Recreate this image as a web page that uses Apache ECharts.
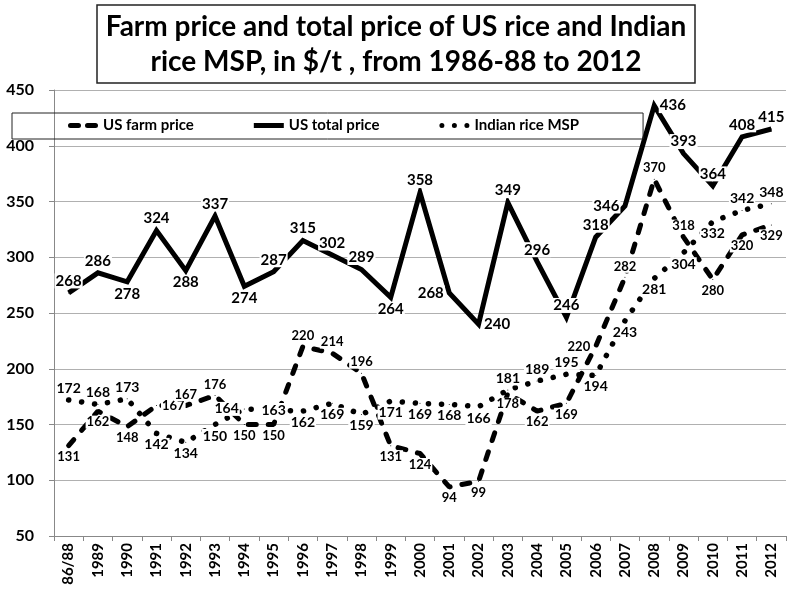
<!DOCTYPE html>
<html>
<head>
<meta charset="utf-8">
<script src="https://cdn.jsdelivr.net/npm/echarts@6/dist/echarts.min.js"></script>
<style>
  html, body { margin: 0; padding: 0; background: #fff; }
  #main { width: 792px; height: 592px; }
</style>
</head>
<body>
<div id="main"></div>
<script>
var categories = ['86/88', '1989', '1990', '1991', '1992', '1993', '1994', '1995', '1996', '1997', '1998', '1999',
    '2000', '2001', '2002', '2003', '2004', '2005', '2006', '2007', '2008', '2009', '2010', '2011', '2012'];

var farmPrice  = [131, 162, 148, 167, 167, 176, 150, 150, 220, 214, 196, 131, 124, 94, 99, 178, 162, 169, 220, 282, 370, 318, 280, 320, 329];
var totalPrice = [268, 286, 278, 324, 288, 337, 274, 287, 315, 302, 289, 264, 358, 268, 240, 349, 296, 246, 318, 346, 436, 393, 364, 408, 415];
var indianMsp  = [172, 168, 173, 142, 134, 150, 164, 163, 162, 169, 159, 171, 169, 168, 166, 181, 189, 195, 194, 243, 281, 304, 332, 342, 348];

// where each data label sits around its point
var farmLabelPos = ['bottom', 'bottom', 'bottom', 'right', 'top', 'top', 'bottom', 'bottom', 'top', 'top', 'top', 'bottom',
    'bottom', 'bottom', 'bottom', 'bottom', 'bottom', 'bottom', 'left', 'top', 'top', 'top', 'bottom', 'bottom', 'bottom'];
var totalLabelPos = ['top', 'top', 'bottom', 'top', 'bottom', 'top', 'bottom', 'top', 'top', 'top', 'top', 'bottom',
    'top', 'left', 'right', 'top', 'top', 'top', 'top', 'left', 'right', 'top', 'top', 'top', 'top'];
var mspLabelPos = ['top', 'top', 'top', 'bottom', 'bottom', 'bottom', 'left', 'inside', 'bottom', 'bottom', 'bottom', 'bottom',
    'bottom', 'bottom', 'bottom', 'top', 'top', 'top', 'bottom', 'bottom', 'bottom', 'bottom', 'bottom', 'top', 'top'];

var FONT = 'Lato, "Open Sans", sans-serif';

function withLabels(values, pos) {
    return values.map(function (v, i) {
        return { value: v, label: { position: pos[i] } };
    });
}

function labelStyle(size) {
    return {
        show: true,
        color: '#000',
        fontFamily: FONT,
        fontWeight: 'bold',
        fontSize: size,
        backgroundColor: '#fff',
        padding: [0, 1],
        distance: 4
    };
}

var dashIcon = 'path://M2.5,0h8a2.5,2.5 0 0 1 0,5h-8a2.5,2.5 0 0 1 0,-5z M19.5,0h8a2.5,2.5 0 0 1 0,5h-8a2.5,2.5 0 0 1 0,-5z';
var solidIcon = 'path://M0,0h30v5h-30z';
var dotIcon = 'path://M0,2.5a2.5,2.5 0 1 0 5,0a2.5,2.5 0 1 0 -5,0z M12.5,2.5a2.5,2.5 0 1 0 5,0a2.5,2.5 0 1 0 -5,0z M25,2.5a2.5,2.5 0 1 0 5,0a2.5,2.5 0 1 0 -5,0z';

var myChart = echarts.init(document.getElementById('main'));

var option = {
    backgroundColor: '#fff',
    animation: false,
    title: {
        text: 'Farm price and total price of US rice and Indian\nrice MSP, in $/t , from 1986-88 to 2012',
        // centred lines: anchor is the middle of the page
        left: 387,
        top: 5,
        padding: [4, 9],
        borderColor: '#222',
        borderWidth: 1.5,
        textAlign: 'center',
        textStyle: {
            fontFamily: FONT,
            fontWeight: 'bold',
            fontSize: 28,
            lineHeight: 35,
            color: '#000'
        }
    },
    legend: {
        left: 12,
        top: 113,
        padding: [5, 64, 6, 56],
        borderColor: '#222',
        borderWidth: 1,
        itemWidth: 30,
        itemHeight: 5,
        itemGap: 60,
        textStyle: { fontFamily: FONT, fontWeight: 'bold', fontSize: 15, color: '#000' },
        data: [
            { name: 'US farm price', icon: dashIcon },
            { name: 'US total price', icon: solidIcon },
            { name: 'Indian rice MSP', icon: dotIcon }
        ]
    },
    grid: { left: 54, right: 6, top: 90, bottom: 56 },
    xAxis: {
        type: 'category',
        data: categories,
        boundaryGap: true,
        axisLine: { lineStyle: { color: '#888', width: 1 } },
        axisTick: { show: true, length: 5, lineStyle: { color: '#888' } },
        axisLabel: {
            interval: 0,
            rotate: 90,
            margin: 7,
            color: '#000',
            fontFamily: FONT,
            fontWeight: 'bold',
            fontSize: 15
        }
    },
    yAxis: {
        type: 'value',
        min: 50,
        max: 450,
        interval: 50,
        axisLine: { show: true, lineStyle: { color: '#888', width: 1 } },
        axisTick: { show: true, length: 5, lineStyle: { color: '#888' } },
        splitLine: { lineStyle: { color: '#b0b0b0', width: 1 } },
        axisLabel: {
            margin: 20,
            color: '#000',
            fontFamily: FONT,
            fontWeight: 'bold',
            fontSize: 16
        }
    },
    series: [
        {
            name: 'US farm price',
            type: 'line',
            data: withLabels(farmPrice, farmLabelPos),
            symbol: 'circle',
            symbolSize: 1,
            itemStyle: { color: '#000' },
            lineStyle: { color: '#000', width: 5, type: [8, 12], cap: 'round' },
            label: labelStyle(13),
            emphasis: { disabled: true },
            z: 2
        },
        {
            name: 'US total price',
            type: 'line',
            data: withLabels(totalPrice, totalLabelPos),
            symbol: 'circle',
            symbolSize: 1,
            itemStyle: { color: '#000' },
            lineStyle: { color: '#000', width: 5, type: 'solid', join: 'miter' },
            label: labelStyle(15),
            emphasis: { disabled: true },
            z: 2
        },
        {
            name: 'Indian rice MSP',
            type: 'line',
            data: withLabels(indianMsp, mspLabelPos),
            symbol: 'circle',
            symbolSize: 1,
            itemStyle: { color: '#000' },
            lineStyle: { color: '#000', width: 5.5, type: [0.1, 13], cap: 'round' },
            label: labelStyle(14),
            emphasis: { disabled: true },
            z: 2
        }
    ]
};

myChart.setOption(option);
</script>
</body>
</html>
